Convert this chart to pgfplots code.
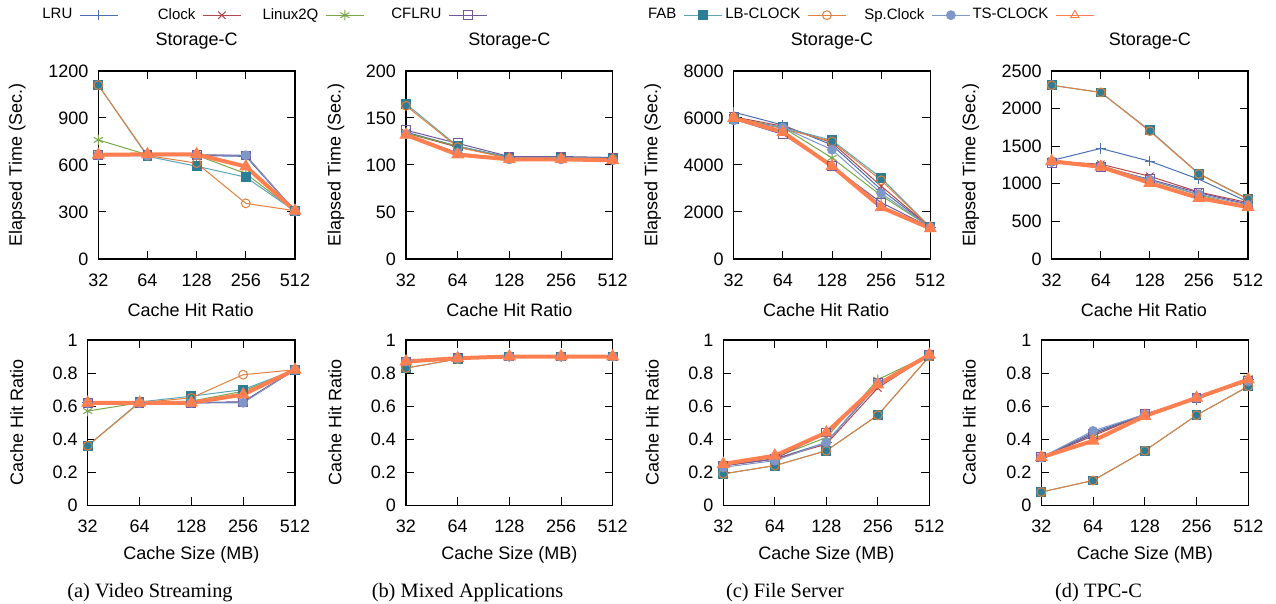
\documentclass[border=0pt]{standalone}
\usepackage{pgfplots}
\pgfplotsset{compat=1.18}
\usepackage{pgfplotstable}
\usepackage{fontspec}
\setmainfont{Liberation Sans}
\newfontfamily\capfont{Liberation Serif}

\definecolor{cLRU}{HTML}{4A70B0}
\definecolor{cCLK}{HTML}{B5464B}
\definecolor{cL2Q}{HTML}{7AA64A}
\definecolor{cCF}{HTML}{7058A0}
\definecolor{cFAB}{HTML}{2E7D96}
\definecolor{cFABl}{HTML}{5AA5BA}
\definecolor{cLB}{HTML}{E0803C}
\definecolor{cSP}{HTML}{7E97C8}
\definecolor{cTS}{HTML}{FF7F50}

\pgfplotstableread{
x lru clk l2q cf fab lb sp ts
0 660 660 760 665 1110 1110 665 665
1 660 660 665 665 655 660 660 668
2 660 662 662 665 592 612 665 668
3 655 660 545 660 522 355 662 590
4 305 305 305 305 305 308 305 308
}\tA
\pgfplotstableread{
x lru clk l2q cf fab lb sp ts
0 135 134 134 137 165 163 133 132
1 120 119 120 123 120 119 113 111
2 108 108 108 109 108 107 106 106
3 108 108 108 109 108 107 106 106
4 107 107 107 108 107 106 105 105
}\tB
\pgfplotstableread{
x lru clk l2q cf fab lb sp ts
0 6250 6050 6000 5950 5950 6000 5900 6000
1 5700 5650 5600 5300 5600 5550 5600 5400
2 4850 4950 4300 3950 5050 5000 4650 3950
3 2950 3100 2700 2400 3450 3350 2800 2200
4 1350 1350 1350 1350 1350 1350 1350 1300
}\tC
\pgfplotstableread{
x lru clk l2q cf fab lb sp ts
0 1310 1300 1290 1280 2310 2310 1290 1300
1 1470 1260 1240 1220 2215 2215 1230 1225
2 1300 1100 1050 1060 1710 1700 1050 1010
3 1060 890 850 880 1135 1130 860 810
4 760 750 690 730 800 795 720 690
}\tD
\pgfplotstableread{
x lru clk l2q cf fab lb sp ts
0 0.62 0.62 0.57 0.62 0.36 0.36 0.62 0.62
1 0.62 0.62 0.62 0.62 0.625 0.62 0.62 0.62
2 0.62 0.62 0.63 0.62 0.66 0.65 0.62 0.62
3 0.625 0.625 0.69 0.625 0.70 0.79 0.62 0.67
4 0.82 0.82 0.82 0.82 0.82 0.82 0.82 0.82
}\bA
\pgfplotstableread{
x lru clk l2q cf fab lb sp ts
0 0.87 0.87 0.87 0.87 0.83 0.83 0.87 0.87
1 0.89 0.89 0.89 0.89 0.885 0.885 0.89 0.89
2 0.90 0.90 0.90 0.90 0.90 0.90 0.90 0.90
3 0.90 0.90 0.90 0.90 0.90 0.90 0.90 0.90
4 0.90 0.90 0.90 0.90 0.90 0.90 0.90 0.90
}\bB
\pgfplotstableread{
x lru clk l2q cf fab lb sp ts
0 0.24 0.24 0.25 0.24 0.19 0.19 0.23 0.25
1 0.28 0.28 0.29 0.28 0.24 0.24 0.27 0.30
2 0.38 0.37 0.41 0.44 0.33 0.33 0.38 0.44
3 0.73 0.71 0.76 0.74 0.545 0.545 0.74 0.73
4 0.91 0.91 0.91 0.91 0.90 0.90 0.91 0.91
}\bC
\pgfplotstableread{
x lru clk l2q cf fab lb sp ts
0 0.29 0.29 0.29 0.29 0.08 0.08 0.29 0.29
1 0.44 0.42 0.43 0.43 0.15 0.15 0.45 0.39
2 0.55 0.55 0.55 0.55 0.33 0.33 0.55 0.54
3 0.64 0.65 0.65 0.65 0.545 0.545 0.65 0.65
4 0.76 0.75 0.77 0.75 0.72 0.72 0.75 0.76
}\bD

\newcommand\fnt{\fontsize{9}{10.8}\selectfont}
\pgfplotsset{
  lruS/.style={color=cLRU, line width=0.5pt, mark=+, mark size=2.6pt, mark options={solid,line width=0.5pt}},
  clkS/.style={color=cCLK, line width=0.5pt, mark=x, mark size=2.6pt, mark options={solid,line width=0.5pt}},
  l2qS/.style={color=cL2Q, line width=0.5pt, mark=asterisk, mark size=2.6pt, mark options={solid,line width=0.5pt}},
  cfS/.style={color=cCF, line width=0.5pt, mark=square, mark size=2.2pt, mark options={solid,line width=0.5pt}},
  fabS/.style={color=cFABl, line width=0.5pt, mark=square*, mark size=2.2pt, mark options={solid,draw=cFAB,fill=cFAB}},
  lbS/.style={color=cLB, line width=0.5pt, mark=o, mark size=2.2pt, mark options={solid,line width=0.5pt}},
  spS/.style={color=cSP, line width=0.5pt, mark=*, mark size=2.2pt, mark options={solid}},
  tsS/.style={color=cTS, line width=2pt, mark=triangle*, mark size=3.3pt, mark options={solid,line width=0.5pt}},
  tsL/.style={color=cTS, line width=0.5pt, mark=triangle, mark size=2.4pt, mark options={solid,line width=0.5pt}},
  base/.style={scale only axis, anchor=south west, clip=false,
    xmin=0, xmax=4, xtick={0,1,2,3,4}, xticklabels={32,64,128,256,512},
    tick align=inside, major tick length=4pt,
    axis line style={line width=0.6pt},
    every tick/.style={black, line width=0.5pt},
    tick label style={font=\fnt},
    label style={font=\fnt},
    every axis title/.style={at={(axis description cs:0.5,1.16)}, anchor=center, font=\fnt},
    /pgf/number format/assume math mode=true,
    /pgf/number format/1000 sep={},
    xticklabel style={inner sep=0pt, anchor=center, yshift=-10.5pt},
    yticklabel style={inner sep=0pt, anchor=east, xshift=-4.8pt},
  },
  toprow/.style={base, height=94pt, title={Storage-C}, xlabel={Cache Hit Ratio}, ylabel={Elapsed Time (Sec.)}},
  botrow/.style={base, height=82.65pt, xlabel={Cache Size (MB)}, ylabel={Cache Hit Ratio},
    ymin=0, ymax=1, ytick={0,0.2,0.4,0.6,0.8,1}},
  ylab/.style={ylabel style={at={(axis description cs:-#1,0.5)}, anchor=center}},
  xlab/.style 2 args={xlabel style={at={(axis description cs:#1,#2)}, anchor=center}},
  legimg/.style={legend image code/.code={\draw[mark repeat=2,mark phase=2,##1] plot coordinates {(0pt,0pt) (9.5pt,0pt) (19pt,0pt)};}},
}
\newcommand\allseries[1]{%
  \addplot[lruS] table[x=x,y=lru]{#1};
  \addplot[clkS] table[x=x,y=clk]{#1};
  \addplot[l2qS] table[x=x,y=l2q]{#1};
  \addplot[cfS] table[x=x,y=cf]{#1};
  \addplot[fabS] table[x=x,y=fab]{#1};
  \addplot[lbS] table[x=x,y=lb]{#1};
  \addplot[spS] table[x=x,y=sp]{#1};
  \addplot[tsS] table[x=x,y=ts]{#1};
}
\newcommand\lt[1]{\makebox[36pt][r]{#1}}

\begin{document}
\begin{tikzpicture}
\useasboundingbox (0,0) rectangle (638pt,302pt);

% legends
\begin{axis}[at={(0pt,0pt)}, anchor=south west, scale only axis, width=638pt, height=302pt,
  hide axis, xmin=0, xmax=1, ymin=0, ymax=1, legimg, legend plot pos=right,
  legend columns=4,
  legend style={at={(0,294.4/302)}, anchor=west, draw=none, fill=none, inner sep=0pt,
    font=\fontsize{7.5}{8.4}\selectfont, nodes={inner sep=0pt},
    /tikz/every odd column/.append style={column sep=3.5pt},
    /tikz/every even column/.append style={column sep=2.5pt}}]
\addlegendimage{lruS}\addlegendentry{\lt{LRU}}
\addlegendimage{clkS}\addlegendentry{\lt{Clock}}
\addlegendimage{l2qS}\addlegendentry{\lt{Linux2Q}}
\addlegendimage{cfS}\addlegendentry{\lt{CFLRU}}
\end{axis}
\begin{axis}[at={(0pt,0pt)}, anchor=south west, scale only axis, width=638pt, height=302pt,
  hide axis, xmin=0, xmax=1, ymin=0, ymax=1, legimg, legend plot pos=right,
  legend columns=4,
  legend style={at={(302/638,294.4/302)}, anchor=west, draw=none, fill=none, inner sep=0pt,
    font=\fontsize{7.5}{8.4}\selectfont, nodes={inner sep=0pt},
    /tikz/every odd column/.append style={column sep=3.5pt},
    /tikz/every even column/.append style={column sep=3pt}}]
\addlegendimage{fabS}\addlegendentry{\lt{FAB}}
\addlegendimage{lbS}\addlegendentry{\lt{LB-CLOCK}}
\addlegendimage{spS}\addlegendentry{\lt{Sp.Clock}}
\addlegendimage{tsL}\addlegendentry{\lt{TS-CLOCK}}
\end{axis}

% top row
\begin{axis}[toprow, at={(49.15pt,172.5pt)}, width=98.35pt, ymin=0, ymax=1200, ytick={0,300,600,900,1200}, ylab=0.412, xlab={0.47}{-0.271}]
\allseries{\tA}
\end{axis}
\begin{axis}[toprow, at={(203pt,172.5pt)}, width=103.35pt, ymin=0, ymax=200, ytick={0,50,100,150,200}, ylab=0.339, xlab={0.5}{-0.271}]
\allseries{\tB}
\end{axis}
\begin{axis}[toprow, at={(366.85pt,172.5pt)}, width=98.3pt, ymin=0, ymax=8000, ytick={0,2000,4000,6000,8000}, ylab=0.412, xlab={0.47}{-0.271}]
\allseries{\tC}
\end{axis}
\begin{axis}[toprow, at={(525.85pt,172.5pt)}, width=98.15pt, ymin=0, ymax=2500, ytick={0,500,1000,1500,2000,2500}, ylab=0.413, xlab={0.47}{-0.271}]
\allseries{\tD}
\end{axis}

% bottom row
\begin{axis}[botrow, at={(43.85pt,49.35pt)}, width=103.65pt, ylab=0.3425, xlab={0.5}{-0.3025}]
\allseries{\bA}
\end{axis}
\begin{axis}[botrow, at={(203pt,49.35pt)}, width=103.35pt, ylab=0.3435, xlab={0.5}{-0.3025}]
\allseries{\bB}
\end{axis}
\begin{axis}[botrow, at={(361.65pt,49.35pt)}, width=103pt, ylab=0.345, xlab={0.5}{-0.3025}]
\allseries{\bC}
\end{axis}
\begin{axis}[botrow, at={(520.65pt,49.35pt)}, width=103.5pt, ylab=0.348, xlab={0.5}{-0.3025}]
\allseries{\bD}
\end{axis}

% captions
\begin{scope}[every node/.style={font=\capfont\fontsize{10.2}{12}\selectfont, anchor=center}]
\node at (75pt,5.8pt) {(a) Video Streaming};
\node at (233.75pt,5.8pt) {(b) Mixed Applications};
\node at (392.5pt,5.8pt) {(c) File Server};
\node at (549.25pt,5.8pt) {(d) TPC-C};
\end{scope}
\end{tikzpicture}
\end{document}
